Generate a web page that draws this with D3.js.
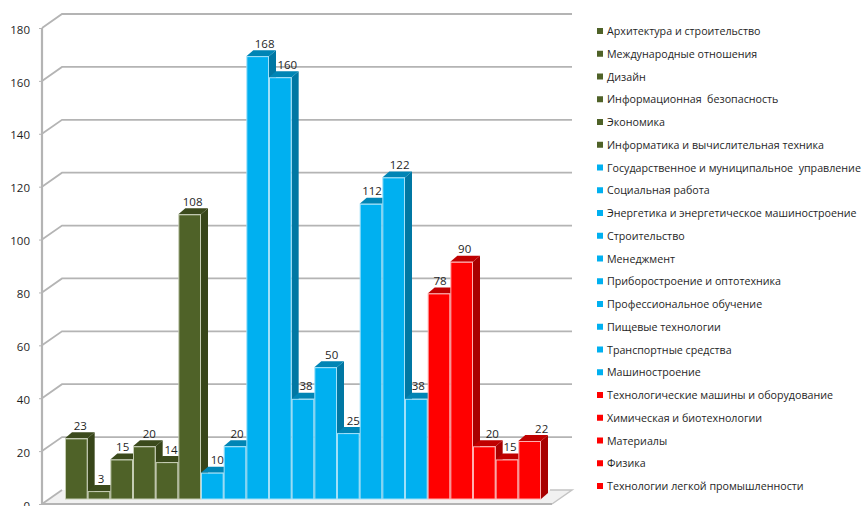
<!DOCTYPE html>
<html>
<head>
<meta charset="utf-8">
<script src="https://cdn.jsdelivr.net/npm/d3@7/dist/d3.min.js"></script>
<style>
html,body{margin:0;padding:0;background:#fff;}
svg{display:block;}
text{font-family:"Open Sans","Noto Sans",sans-serif;fill:#1f1f1f;white-space:pre;}
</style>
</head>
<body>
<svg id="chart" width="862" height="506"></svg>
<script>
// Enrolment figures by field of study, one bar per field, coloured by group
const categories = [
  "Архитектура и строительство","Международные отношения","Дизайн","Информационная  безопасность",
  "Экономика","Информатика и вычислительная техника","Государственное и муниципальное  управление",
  "Социальная работа","Энергетика и энергетическое машиностроение","Строительство","Менеджмент",
  "Приборостроение и оптотехника","Профессиональное обучение","Пищевые технологии","Транспортные средства",
  "Машиностроение","Технологические машины и оборудование","Химическая и биотехнологии","Материалы",
  "Физика","Технологии легкой промышленности"
];
const values = [23,3,15,20,14,108,10,20,168,160,38,50,25,112,122,38,78,90,20,15,22];
const groups = ["olive","olive","olive","olive","olive","olive",
  "blue","blue","blue","blue","blue","blue","blue","blue","blue","blue",
  "red","red","red","red","red"];
const tickValues = [0,20,40,60,80,100,120,140,160,180];

const palette = {
  olive:{front:"#4f6228",side:"#374519",top:"#3b4a1c",edge:"#c5cdb3"},
  blue:{front:"#00b0f0",side:"#0077a3",top:"#0085b5",edge:"#9fe0f9"},
  red:{front:"#ff0000",side:"#a80000",top:"#c00000",edge:"#ffb0b0"}
};

const svg = d3.select("#chart");

// Plot box: front-left corner of the axis, depth of the back wall, depth of each bar
const axisX = 42, axisBottom = 504, axisTop = 28, floorRight = 552;
const wallDX = 20, wallDY = -14;
const barDX = 7, barDY = -6;

// Hand-placed horizontal nudge of each value label, relative to its bar's centre
const labelNudge = [4,2,1,5,4,3,5,2,7,7,3,6,5,1,6,2,1,3,8,3,12];

const yFront = d3.scaleLinear().domain([0,180]).range([axisBottom,axisTop]);
const yBack = d3.scaleLinear().domain([0,180]).range([axisBottom+wallDY,axisTop+wallDY]);
const yBar = d3.scaleLinear().domain([0,180]).range([499,24.5]);
const x = d3.scaleBand().domain(d3.range(categories.length)).range([65,541]).padding(0);

const gridColor = "#b4b4b4";
const pts = p => p.map(d=>d.join(",")).join(" ");

// Floor plane
svg.append("polygon")
  .attr("points",pts([[axisX,axisBottom],[floorRight,axisBottom],[floorRight+wallDX,axisBottom+wallDY],[axisX+wallDX,axisBottom+wallDY]]))
  .attr("fill","#f1f1f1");
svg.append("path")
  .attr("d",`M${floorRight},${axisBottom}L${floorRight+wallDX},${axisBottom+wallDY}H${floorRight-2}`)
  .attr("fill","none").attr("stroke","#c4c4c4").attr("stroke-width",1.5);

// Back-wall gridlines with their diagonal returns to the axis
const grid = svg.append("g");
tickValues.filter(d=>d>0).forEach(v=>{
  grid.append("path")
    .attr("d",`M${axisX},${yFront(v)}L${axisX+wallDX},${yBack(v)}H${floorRight+wallDX}`)
    .attr("fill","none").attr("stroke",gridColor).attr("stroke-width",1.8);
});
grid.append("path")
  .attr("d",`M${axisX},${axisBottom}L${axisX+wallDX},${yBack(0)}`)
  .attr("fill","none").attr("stroke",gridColor).attr("stroke-width",1.8);

// Value axis, drawn on the front plane
const axis = svg.append("g").attr("transform",`translate(${axisX},0)`)
  .call(d3.axisLeft(yFront).tickValues(tickValues).tickSize(3).tickPadding(9));
axis.selectAll("text").attr("font-size",11.5).attr("dy","0.45em")
  .style("font-family",'"Open Sans","Noto Sans",sans-serif').attr("fill","#1f1f1f");
axis.selectAll("line").attr("stroke",gridColor);
axis.select(".domain").attr("stroke",gridColor).attr("stroke-width",2.2).attr("d",`M0,${axisTop}V${axisBottom}`);
svg.append("line").attr("x1",axisX).attr("x2",floorRight).attr("y1",axisBottom).attr("y2",axisBottom)
  .attr("stroke",gridColor).attr("stroke-width",1.8);

// Bars in left-to-right order, so each front face covers its neighbour's side
const bars = svg.append("g").selectAll("g").data(values).join("g");
bars.append("polygon").attr("fill",(d,i)=>palette[groups[i]].side)
  .attr("points",(d,i)=>{const r=x(i)+x.bandwidth();return pts([[r,yBar(d)],[r+barDX,yBar(d)+barDY],[r+barDX,yBar(0)+barDY],[r,yBar(0)]]);});
bars.append("polygon").attr("fill",(d,i)=>palette[groups[i]].top)
  .attr("points",(d,i)=>{const l=x(i),r=l+x.bandwidth();return pts([[l,yBar(d)],[l+barDX,yBar(d)+barDY],[r+barDX,yBar(d)+barDY],[r,yBar(d)]]);});
bars.append("rect")
  .attr("x",(d,i)=>x(i)+0.5).attr("y",d=>yBar(d)+0.5)
  .attr("width",x.bandwidth()-1).attr("height",d=>yBar(0)-yBar(d)-0.5)
  .attr("fill",(d,i)=>palette[groups[i]].front)
  .attr("stroke",(d,i)=>palette[groups[i]].edge).attr("stroke-width",1);

// Value labels above each bar
svg.append("g").selectAll("text").data(values).join("text")
  .attr("x",(d,i)=>x(i)+x.bandwidth()/2+labelNudge[i])
  .attr("y",d=>yBar(d)-8.5)
  .attr("text-anchor","middle").attr("font-size",11.5)
  .text(d=>d);

// Legend column
const legendY = d3.scaleLinear().domain([0,categories.length-1]).range([31,486]);
const legend = svg.append("g").selectAll("g").data(categories).join("g")
  .attr("transform",(d,i)=>`translate(0,${legendY(i)})`);
legend.append("rect").attr("x",597).attr("y",-3).attr("width",6).attr("height",6)
  .attr("fill",(d,i)=>palette[groups[i]].front);
legend.append("text").attr("x",607).attr("y",4).attr("font-size",10.7).text(d=>d);
</script>
</body>
</html>
